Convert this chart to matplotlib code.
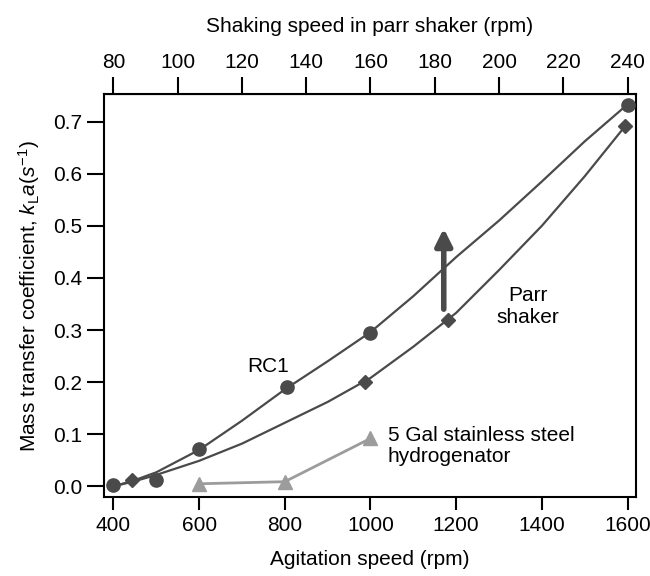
import matplotlib
matplotlib.use("Agg")
from matplotlib import pyplot as plt

plt.rcParams['font.family'] = ['Liberation Sans', 'DejaVu Sans']
plt.rcParams['mathtext.fontset'] = 'custom'
plt.rcParams['mathtext.rm'] = 'Liberation Sans'
plt.rcParams['mathtext.it'] = 'Liberation Sans:italic'

# measured points
rc1_x = [400, 500, 600, 805, 1000, 1602]
rc1_y = [0.002, 0.013, 0.071, 0.19, 0.295, 0.732]

parr_x = [443, 987, 1180, 1595]
parr_y = [0.012, 0.2, 0.319, 0.692]

gal_x = [600, 800, 1000]
gal_y = [0.005, 0.009, 0.092]

# fitted curves
rc1_fit_x = [400, 450, 500, 600, 700, 800, 900, 1000, 1100, 1200, 1300, 1400, 1500, 1600]
rc1_fit_y = [0.0, 0.012, 0.027, 0.07, 0.126, 0.186, 0.24, 0.296, 0.365, 0.44, 0.51, 0.585, 0.662, 0.733]

parr_fit_x = [400, 450, 500, 600, 700, 800, 900, 1000, 1100, 1200, 1300, 1400, 1500, 1600]
parr_fit_y = [0.0, 0.01, 0.022, 0.049, 0.082, 0.122, 0.162, 0.208, 0.268, 0.333, 0.415, 0.5, 0.595, 0.697]

top_ticks = [80, 100, 120, 140, 160, 180, 200, 220, 240]

dark = '#4a4a4a'
light = '#9c9c9c'
fs = 15

fig = plt.figure(figsize=(6.5, 5.76), dpi=100)
ax = fig.add_axes([0.16, 0.1366, 0.818, 0.6994])

ax.plot(rc1_fit_x, rc1_fit_y, color=dark, lw=1.6)
ax.plot(parr_fit_x, parr_fit_y, color=dark, lw=1.6)
ax.plot(rc1_x, rc1_y, 'o', color=dark, ms=9.5, zorder=3)
ax.plot(parr_x, parr_y, 'D', color=dark, ms=7.5, zorder=3)
ax.plot(gal_x, gal_y, '^', color=light, ls='-', lw=2, ms=10, zorder=3)

ax.annotate('', xy=(1171, 0.495), xytext=(1171, 0.34),
            arrowprops=dict(arrowstyle='-|>,head_width=0.5,head_length=1.0',
                            lw=4, color=dark, shrinkA=0, shrinkB=0))

ax.text(760, 0.23, 'RC1', fontsize=fs, ha='center', va='center')
ax.text(1368, 0.345, 'Parr\nshaker', fontsize=fs, ha='center', va='center',
        linespacing=1.15)
ax.text(1040, 0.078, '5 Gal stainless steel\nhydrogenator', fontsize=fs,
        ha='left', va='center', linespacing=1.15)

ax.set_xlim(378, 1619)
ax.set_ylim(-0.021, 0.752)
ax.set_xticks([400, 600, 800, 1000, 1200, 1400, 1600])
ax.set_yticks([0.0, 0.1, 0.2, 0.3, 0.4, 0.5, 0.6, 0.7])
ax.set_yticklabels(['0.0', '0.1', '0.2', '0.3', '0.4', '0.5', '0.6', '0.7'])
ax.set_xlabel('Agitation speed (rpm)', fontsize=fs, labelpad=11)
ax.set_ylabel('Mass transfer coefficient, $k_{\\mathrm{L}}a(s^{-1})$', fontsize=fs, labelpad=8)
ax.tick_params(axis='x', direction='out', length=9.5, width=1.5, labelsize=fs, pad=4)
ax.tick_params(axis='y', direction='out', length=12.5, width=1.5, labelsize=fs, pad=3)
for s in ax.spines.values():
    s.set_linewidth(1.5)

sec = ax.secondary_xaxis('top', functions=(lambda x: 80 + (x - 400) * 160 / 1200,
                                           lambda s: 400 + (s - 80) * 1200 / 160))
sec.set_xticks(top_ticks)
sec.tick_params(direction='out', length=12, width=1.5, labelsize=fs, pad=4)
sec.set_xlabel('Shaking speed in parr shaker (rpm)', fontsize=fs, labelpad=15)

fig.savefig('out.png', dpi=100)
